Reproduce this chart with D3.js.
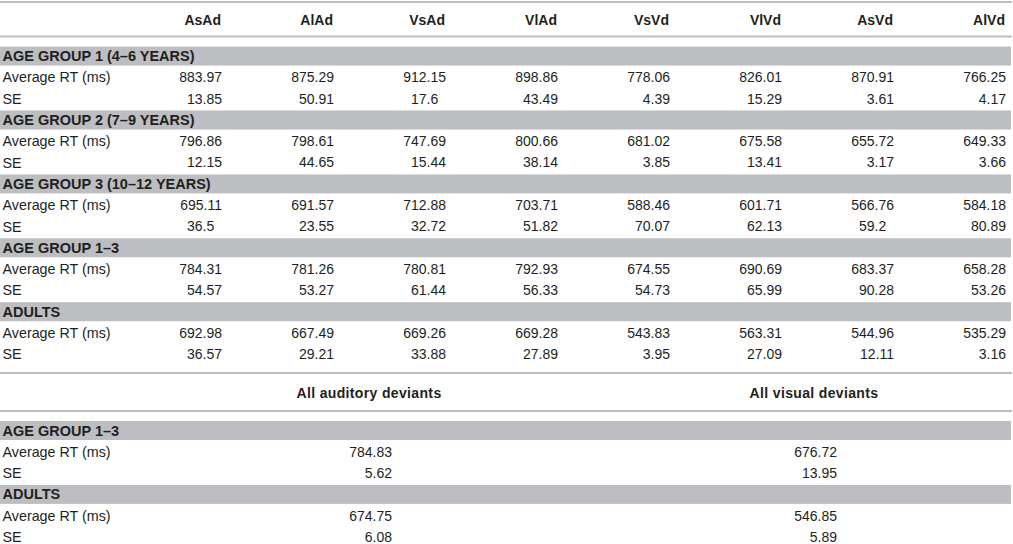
<!DOCTYPE html>
<html>
<head>
<meta charset="utf-8">
<script src="https://cdn.jsdelivr.net/npm/d3@7"></script>
<style>
  body { margin: 0; background: #fff; }
  text { font-family: "Liberation Sans", Arial, Helvetica, sans-serif; font-size: 14px; fill: #231f20; }
</style>
</head>
<body>
<div id="table"></div>
<script>
// conditions (table columns)
const conditions = ["AsAd", "AlAd", "VsAd", "VlAd", "VsVd", "VlVd", "AsVd", "AlVd"];

const groups = ["AGE GROUP 1 (4–6 YEARS)", "AGE GROUP 2 (7–9 YEARS)", "AGE GROUP 3 (10–12 YEARS)", "AGE GROUP 1–3", "ADULTS"];
const rowLabels = ["Average RT (ms)", "SE"];

const group1Avg = [883.97, 875.29, 912.15, 898.86, 778.06, 826.01, 870.91, 766.25];
const group1SE = [13.85, 50.91, 17.6, 43.49, 4.39, 15.29, 3.61, 4.17];
const group2Avg = [796.86, 798.61, 747.69, 800.66, 681.02, 675.58, 655.72, 649.33];
const group2SE = [12.15, 44.65, 15.44, 38.14, 3.85, 13.41, 3.17, 3.66];
const group3Avg = [695.11, 691.57, 712.88, 703.71, 588.46, 601.71, 566.76, 584.18];
const group3SE = [36.5, 23.55, 32.72, 51.82, 70.07, 62.13, 59.2, 80.89];
const group13Avg = [784.31, 781.26, 780.81, 792.93, 674.55, 690.69, 683.37, 658.28];
const group13SE = [54.57, 53.27, 61.44, 56.33, 54.73, 65.99, 90.28, 53.26];
const adultsAvg = [692.98, 667.49, 669.26, 669.28, 543.83, 563.31, 544.96, 535.29];
const adultsSE = [36.57, 29.21, 33.88, 27.89, 3.95, 27.09, 12.11, 3.16];

// pooled part of the table
const pooled = ["All auditory deviants", "All visual deviants"];
const pooledGroups = ["AGE GROUP 1–3", "ADULTS"];
const pooled13Avg = [784.83, 676.72];
const pooled13SE = [5.62, 13.95];
const pooledAdultsAvg = [674.75, 546.85];
const pooledAdultsSE = [6.08, 5.89];

const width = 1013, height = 544;
const grey = "#bdbec1";
const digitW = 7.79; // width of one digit at 14px

const svg = d3.select("#table")
    .append("svg")
    .attr("width", width)
    .attr("height", height);

// rows of a block: band row, then avg + se rows
function buildRows(names, avgs, ses) {
    let rows = [];
    names.forEach((g, i) => {
        rows.push({ type: "band", label: g });
        rows.push({ type: "data", label: rowLabels[0], values: avgs[i] });
        rows.push({ type: "data", label: rowLabels[1], values: ses[i] });
    });
    return rows;
}

const rows1 = buildRows(groups,
    [group1Avg, group2Avg, group3Avg, group13Avg, adultsAvg],
    [group1SE, group2SE, group3SE, group13SE, adultsSE]);

const rows2 = buildRows(pooledGroups,
    [pooled13Avg, pooledAdultsAvg],
    [pooled13SE, pooledAdultsSE]);

const step = 21.3;

function rule(y) {
    svg.append("line")
        .attr("x1", 0).attr("x2", 1012)
        .attr("y1", y).attr("y2", y)
        .attr("stroke", grey)
        .attr("stroke-width", 2);
}

// decimal alignment: x is the right edge of a 2-decimal number
function decX(x, v) {
    let s = String(v);
    let dec = s.indexOf(".") < 0 ? 0 : s.length - s.indexOf(".") - 1;
    return x - (2 - dec) * digitW - (dec === 0 ? 3.89 : 0);
}

function drawBlock(rows, top, x) {
    let y = d3.scaleBand()
        .domain(d3.range(rows.length))
        .range([top, top + rows.length * step]);

    let g = svg.append("g");

    let row = g.selectAll(".row")
        .data(rows)
        .enter()
        .append("g")
        .attr("class", "row")
        .attr("transform", (d, i) => "translate(0," + y(i) + ")");

    row.filter(d => d.type === "band")
        .append("rect")
        .attr("x", 0)
        .attr("width", 1011)
        .attr("height", y.bandwidth() - 2.3)
        .attr("fill", grey);

    row.append("text")
        .attr("x", 2.5)
        .attr("y", 9.5)
        .attr("dy", "0.35em")
        .attr("font-weight", d => d.type === "band" ? "bold" : null)
        .style("font-size", d => d.type === "band" ? "14.5px" : "14.3px")
        .text(d => d.label);

    row.filter(d => d.type === "data")
        .selectAll(".val")
        .data(d => d.values)
        .enter()
        .append("text")
        .attr("class", "val")
        .attr("x", (v, i) => decX(x(x.domain()[i]), v))
        .attr("y", 9.5)
        .attr("dy", "0.35em")
        .attr("text-anchor", "end")
        .text(v => String(v));
}

// upper table
const x1 = d3.scalePoint().domain(conditions).range([222, 1006]);

rule(2);
svg.selectAll(".head1")
    .data(conditions)
    .enter()
    .append("text")
    .attr("class", "head1")
    .attr("x", d => x1(d) - 1)
    .attr("y", 20)
    .attr("dy", "0.35em")
    .attr("text-anchor", "end")
    .attr("font-weight", "bold")
    .text(d => d);
rule(36.5);

drawBlock(rows1, 46.6, x1);

// lower table
const x2 = d3.scalePoint().domain(pooled).range([392, 837]);

rule(373);
svg.selectAll(".head2")
    .data(pooled)
    .enter()
    .append("text")
    .attr("class", "head2")
    .attr("x", d => x2(d) - 23)
    .attr("y", 393)
    .attr("dy", "0.35em")
    .attr("text-anchor", "middle")
    .attr("font-weight", "bold")
    .style("letter-spacing", "0.35px")
    .text(d => d);
rule(411);

drawBlock(rows2, 421, x2);
</script>
</body>
</html>
